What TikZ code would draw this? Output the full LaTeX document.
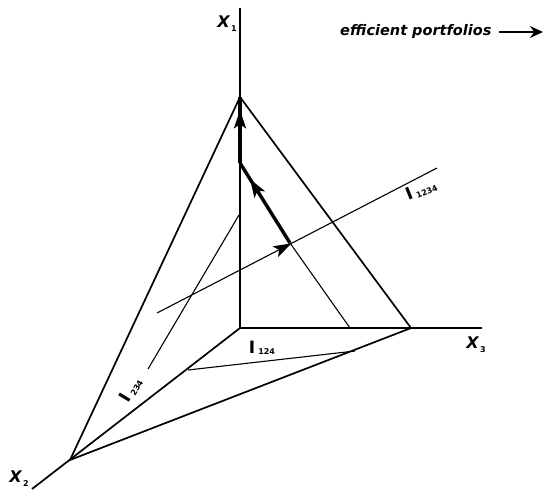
\documentclass[tikz,border=0pt]{standalone}
\usepackage{fontspec}
\setmainfont{DejaVu Sans}
\usetikzlibrary{arrows.meta,decorations.markings}
\newcommand{\ibarfont}{\fontsize{17}{17}\selectfont\bfseries}
\newcommand{\isubfont}{\fontsize{8}{8}\selectfont\bfseries}
\newcommand{\ilabel}[1]{\ibarfont I\hspace{3pt}\raisebox{-1.5pt}{\isubfont #1}}
\newcommand{\xlabel}[1]{X\raisebox{-4pt}{\fontsize{8}{8}\selectfont\bfseries\upshape\,#1}}
\tikzset{
  mainline/.style={line width=1.7pt},
  thinline/.style={line width=1.1pt},
  heavyline/.style={line width=3.4pt},
  axlbl/.style={font=\fontsize{16}{16}\selectfont\bfseries\itshape, inner sep=0pt},
  ilbl/.style={inner sep=0pt},
  midarrow/.style={postaction={decorate},decoration={markings,
     mark=at position #1 with {\arrow{Stealth[length=18pt,width=12pt,inset=4pt]}}}}
}
\begin{document}
\begin{tikzpicture}[x=1pt,y=-1pt]
\useasboundingbox (0,0) rectangle (545,495);
% key points
\coordinate (O) at (240,328);
\coordinate (X1end) at (240,8);
\coordinate (X3end) at (482,328);
\coordinate (X2end) at (32,489);
\coordinate (A) at (240,97);
\coordinate (B) at (411,328);
\coordinate (C) at (70,460);
\coordinate (P) at (350,328);
\coordinate (Q) at (290,243);
\coordinate (R) at (240,163);
\coordinate (D) at (157,313);
\coordinate (E) at (437,168);
\coordinate (F) at (239,215);
\coordinate (G) at (148,369);
\coordinate (H) at (188,370);
\coordinate (K) at (355,351);
% axes
\draw[mainline] (O) -- (X1end);
\draw[mainline] (O) -- (X3end);
\draw[mainline] (O) -- (X2end);
% triangle
\draw[mainline,line join=miter] (A) -- (B) -- (C) -- cycle;
% thin lines
\draw[thinline] (P) -- (Q);
\draw[thinline] (F) -- (G);
\draw[thinline] (H) -- (K);
\draw[thinline,midarrow=0.48] (D) -- (E);
% heavy path
\draw[heavyline,midarrow=0.80] (Q) -- (R);
\draw[heavyline,midarrow=0.80] (R) -- (A);
% axis labels
\node[axlbl] (x1) at (227,24) {\xlabel{1}};
\node[axlbl] (x2) at (19,479) {\xlabel{2}};
\node[axlbl] (x3) at (476,345) {\xlabel{3}};
% I labels
\node[ilbl] (i124) at (262,348) {\ilabel{124}};
\node[ilbl,rotate=59] (i234) at (131,390) {\ilabel{234}};
\node[ilbl,rotate=22] (i1234) at (421,190) {\ilabel{1234}};
% efficient portfolios
\node[font=\fontsize{14.5}{14.5}\selectfont\bfseries\itshape, inner sep=0pt, anchor=base west] (ep) at (340,35) {efficient portfolios};
\coordinate (ea) at (499,32);
\coordinate (eb) at (543,32);
\draw[line width=2.8pt,-{Stealth[length=13pt,width=12pt]}] (ea) -- (eb);
\end{tikzpicture}
\end{document}
